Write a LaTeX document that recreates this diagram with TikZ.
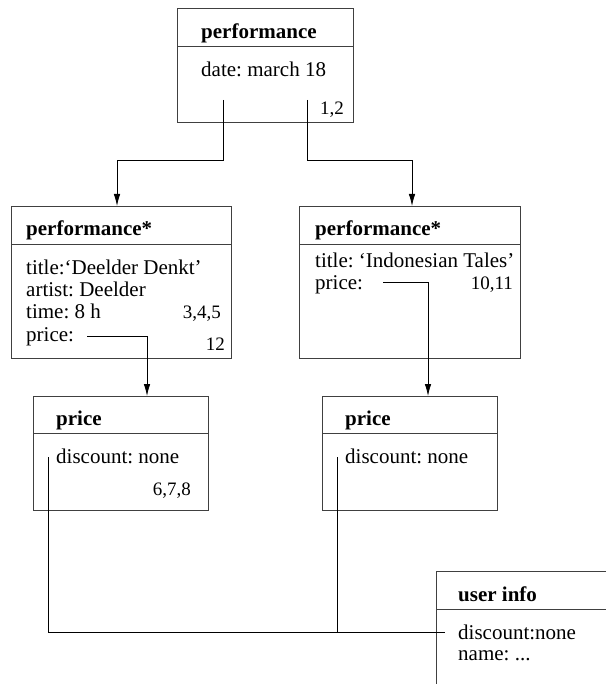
\documentclass[tikz,border=0pt]{standalone}
\usepackage{fontspec}
\setmainfont{Liberation Serif}
\usetikzlibrary{arrows.meta}
\frenchspacing
\begin{document}
\begin{tikzpicture}[x=1pt,y=-1pt,
  box/.style={draw=black!75, line width=0.8pt, inner sep=0pt, anchor=north west},
  sep/.style={draw=black!75, line width=0.8pt},
  conn/.style={draw=black, line width=0.8pt},
  arr/.style={conn, -{Latex[length=12pt,width=6.5pt]}},
  txt/.style={inner sep=0pt, anchor=base west, font=\fontsize{21}{24}\selectfont},
  ttl/.style={txt, font=\fontsize{21}{24}\selectfont\bfseries},
  num/.style={inner sep=0pt, anchor=base east, font=\fontsize{19}{22}\selectfont}]
\useasboundingbox (0,0) rectangle (606,684);

% top performance box
\node[box, minimum width=176pt, minimum height=114pt] (p0) at (177,8) {};
\draw[sep] (177,46) -- (353,46);
\node[ttl] (p0t) at (201,39) {performance};
\node[txt] (p0a) at (201,77) {date: march 18};
\node[num] (p0n) at (344,115) {1,2};

% left performance*
\node[box, minimum width=220pt, minimum height=152pt] (p1) at (11,206) {};
\draw[sep] (11,244) -- (231,244);
\node[ttl] (p1t) at (26,236) {performance*};
\node[txt] (p1a) at (26,274) {title:‘Deelder Denkt’};
\node[txt] (p1b) at (26,296) {artist: Deelder};
\node[txt] (p1c) at (26,318) {time: 8 h};
\node[txt] (p1d) at (26,341) {price:};
\node[num] (p1n) at (221,318) {3,4,5};
\node[num] (p1m) at (225,350) {12};

% right performance*
\node[box, minimum width=221pt, minimum height=152pt] (p2) at (299,206) {};
\draw[sep] (299,244) -- (520,244);
\node[ttl] (p2t) at (315,236) {performance*};
\node[txt] (p2a) at (315,267) {title: ‘Indonesian Tales’};
\node[txt] (p2b) at (315,289) {price:};
\node[num] (p2n) at (513,289) {10,11};

% left price
\node[box, minimum width=175pt, minimum height=114pt] (q1) at (33,396) {};
\draw[sep] (33,433) -- (208,433);
\node[ttl] (q1t) at (56,425) {price};
\node[txt] (q1a) at (56,463) {discount: none};
\node[num] (q1n) at (191,495) {6,7,8};

% right price
\node[box, minimum width=175pt, minimum height=114pt] (q2) at (322,396) {};
\draw[sep] (322,433) -- (497,433);
\node[ttl] (q2t) at (345,425) {price};
\node[txt] (q2a) at (345,463) {discount: none};

% user info (cut off at right and bottom)
\draw[sep] (606,571) -- (436,571) -- (436,684);
\draw[sep] (436,609) -- (606,609);
\node[ttl] (ut) at (458,601) {user info};
\node[txt] (ua) at (458,639) {discount:none};
\node[txt] (ub) at (458,660) {name: ...};

% connector coordinates
\coordinate (c1) at (223,100);
\coordinate (k1) at (117,160);
\coordinate (t1) at (117,206);
\coordinate (c2) at (307,100);
\coordinate (k2) at (412,160);
\coordinate (t2) at (412,206);
\coordinate (c3) at (87,336);
\coordinate (t3) at (147,396);
\coordinate (c4) at (383,282);
\coordinate (t4) at (428,396);
\coordinate (c5) at (48,457);
\coordinate (u1) at (445,632);
\coordinate (c6) at (337,457);
\coordinate (j6) at (337,632);

\draw[arr] (c1) |- (k1) -- (t1);
\draw[arr] (c2) |- (k2) -- (t2);
\draw[arr] (c3) -| (t3);
\draw[arr] (c4) -| (t4);
\draw[conn] (c5) |- (u1);
\draw[conn] (c6) -- (j6);
\end{tikzpicture}
\end{document}
